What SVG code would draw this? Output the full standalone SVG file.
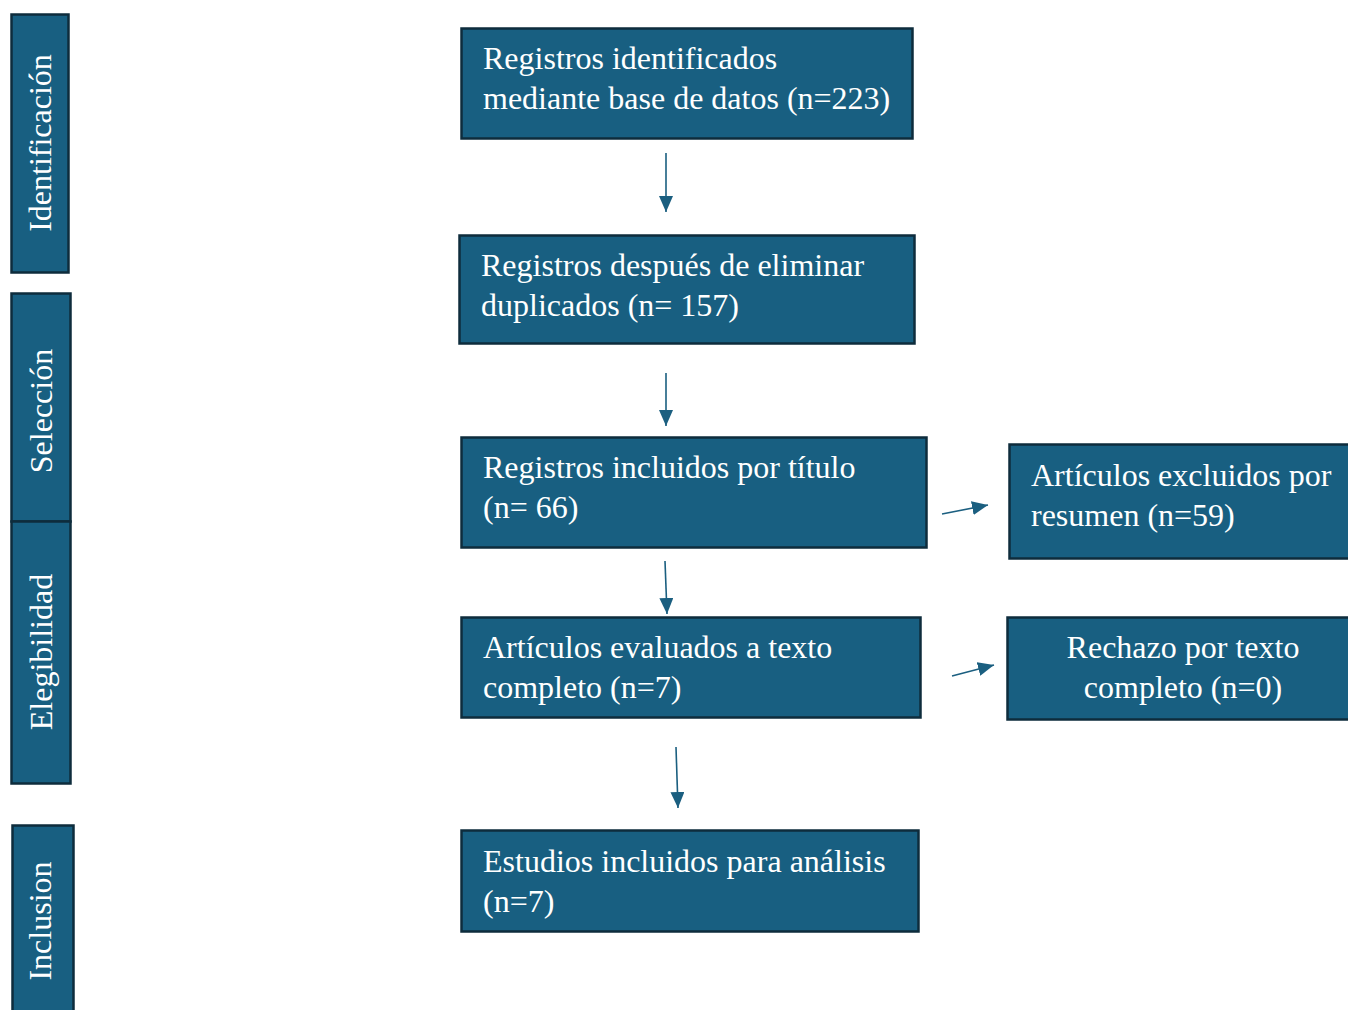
<svg xmlns="http://www.w3.org/2000/svg" width="1348" height="1010" viewBox="0 0 1348 1010">
<defs>
<style>
.box{fill:#185f81;stroke:#0e2c3c;stroke-width:2.5}
.t{font-family:"Liberation Serif","Times New Roman",serif;font-size:32px;fill:#ffffff}
.c{fill:none;stroke:#1b5f80;stroke-width:1.6}
</style>
<marker id="ah2" viewBox="0 0 16 14" refX="16" refY="7" markerWidth="16" markerHeight="14" markerUnits="userSpaceOnUse" orient="auto">
<path d="M0,0 L16,7 L0,14 Z" fill="#1b5f80"/>
</marker>
</defs>
<rect width="1348" height="1010" fill="#ffffff"/>

<g id="stage-identificacion">
<rect class="box" x="11.5" y="14.5" width="57" height="258"/>
<text class="t" transform="translate(51,143) rotate(-90)" text-anchor="middle">Identificación</text>
</g>
<g id="stage-seleccion">
<rect class="box" x="11.5" y="293.5" width="59" height="228"/>
<text class="t" transform="translate(52,411) rotate(-90)" text-anchor="middle">Selección</text>
</g>
<g id="stage-elegibilidad">
<rect class="box" x="11.5" y="521.5" width="59" height="262"/>
<text class="t" transform="translate(52,652) rotate(-90)" text-anchor="middle">Elegibilidad</text>
</g>
<g id="stage-inclusion">
<rect class="box" x="12.5" y="825.5" width="61" height="190"/>
<text class="t" transform="translate(51,921) rotate(-90)" text-anchor="middle">Inclusion</text>
</g>

<g id="n1">
<rect class="box" x="461.5" y="28.5" width="451" height="110"/>
<text class="t" x="483" y="69">Registros identificados</text>
<text class="t" x="483" y="109">mediante base de datos (n=223)</text>
</g>
<g id="n2">
<rect class="box" x="459.5" y="235.5" width="455" height="108"/>
<text class="t" x="481" y="276">Registros después de eliminar</text>
<text class="t" x="481" y="316">duplicados (n= 157)</text>
</g>
<g id="n3">
<rect class="box" x="461.5" y="437.5" width="465" height="110"/>
<text class="t" x="483" y="478">Registros incluidos por título</text>
<text class="t" x="483" y="518">(n= 66)</text>
</g>
<g id="n4">
<rect class="box" x="1009.5" y="444.5" width="345" height="114"/>
<text class="t" x="1031" y="486">Artículos excluidos por</text>
<text class="t" x="1031" y="526">resumen (n=59)</text>
</g>
<g id="n5">
<rect class="box" x="461.5" y="617.5" width="459" height="100"/>
<text class="t" x="483" y="658">Artículos evaluados a texto</text>
<text class="t" x="483" y="698">completo (n=7)</text>
</g>
<g id="n6">
<rect class="box" x="1007.5" y="617.5" width="347" height="102"/>
<text class="t" x="1183" y="658" text-anchor="middle">Rechazo por texto</text>
<text class="t" x="1183" y="698" text-anchor="middle">completo (n=0)</text>
</g>
<g id="n7">
<rect class="box" x="461.5" y="830.5" width="457" height="101"/>
<text class="t" x="483" y="872">Estudios incluidos para análisis</text>
<text class="t" x="483" y="912">(n=7)</text>
</g>

<g id="connectors">
<line class="c" x1="666" y1="153" x2="666" y2="212" marker-end="url(#ah2)"/>
<line class="c" x1="666" y1="373" x2="666" y2="426" marker-end="url(#ah2)"/>
<line class="c" x1="665" y1="561" x2="667" y2="614" marker-end="url(#ah2)"/>
<line class="c" x1="942" y1="514" x2="988" y2="505" marker-end="url(#ah2)"/>
<line class="c" x1="952" y1="676" x2="994" y2="665" marker-end="url(#ah2)"/>
<line class="c" x1="676" y1="747" x2="678" y2="808" marker-end="url(#ah2)"/>
</g>
</svg>
